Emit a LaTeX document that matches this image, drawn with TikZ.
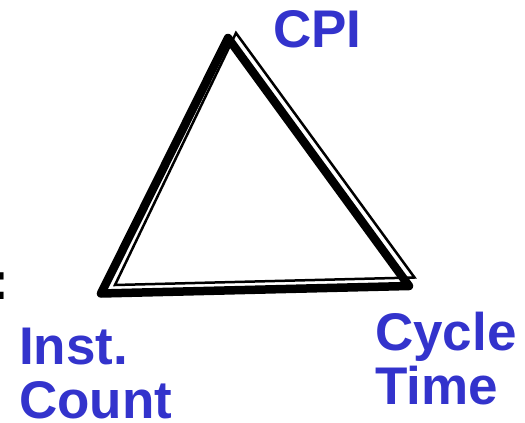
\documentclass[tikz,border=0pt]{standalone}
\usepackage{fontspec}
\setmainfont{Liberation Sans}
\usetikzlibrary{positioning}
\definecolor{labelblue}{HTML}{3333CC}
\tikzset{lbl/.style={text=labelblue,font=\fontsize{53}{54}\selectfont\bfseries,inner sep=0pt,align=left,anchor=north west},
  edgethick/.style={draw=black,line width=8.5pt,line join=round},
  edgethin/.style={draw=black,line width=2.5pt,line join=miter}}
\begin{document}
\begin{tikzpicture}[x=1pt,y=-1pt]
  \useasboundingbox (0,0) rectangle (525,423);
  % corners of the triangle
  \coordinate (cpiC) at (228,38);
  \coordinate (instC) at (101,293.5);
  \coordinate (cycC) at (409,286);
  \coordinate (cpiT) at (236,33);
  \coordinate (instT) at (115,285);
  \coordinate (cycT) at (414.5,277.5);
  \draw[edgethick] (cpiC) -- (instC) -- (cycC) -- cycle;
  \draw[edgethin] (cpiT) -- (instT) -- (cycT) -- cycle;
  % labels
  \node[lbl] (cpi) at (273,10) {CPI};
  \node[lbl] (inst) at (19,328) {Inst.\\Count};
  \node[lbl] (cycle) at (375,312) {Cycle\\Time};
  \node[lbl,text=black,anchor=base west] (colon) at (-9,299) {:};
\end{tikzpicture}
\end{document}
